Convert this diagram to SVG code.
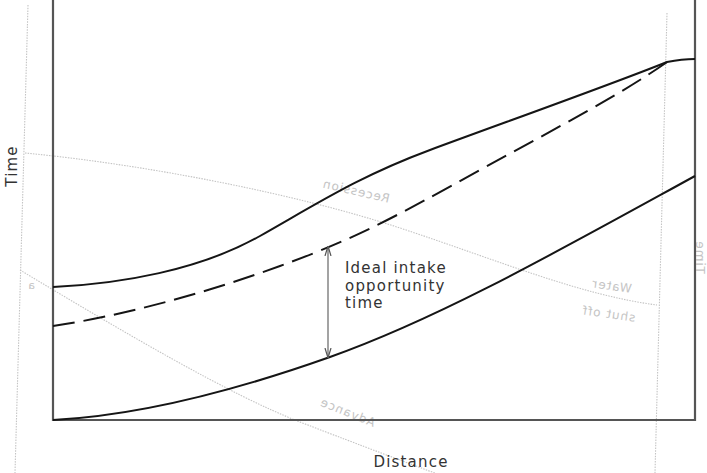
<svg xmlns="http://www.w3.org/2000/svg" width="707" height="473" viewBox="0 0 707 473">
<style>
.axis{fill:none;stroke:#555;stroke-width:2.2}
.curve{fill:none;stroke:#151515;stroke-width:2}
.dash{stroke-dasharray:22 9}
.ghost{fill:none;stroke:#c4c4c4;stroke-width:1.1;stroke-dasharray:1.5 1.2}
.ghostText{font-family:"DejaVu Sans",sans-serif;font-size:12px;fill:#c4c4c4;letter-spacing:1px}
.label{font-family:"DejaVu Sans",sans-serif;font-size:15px;fill:#333;letter-spacing:1.2px}
.dim{fill:none;stroke:#666;stroke-width:1.2}
</style>
<defs>
<marker id="ah" viewBox="0 0 10 10" refX="10" refY="5" markerWidth="10" markerHeight="10" markerUnits="userSpaceOnUse" orient="auto-start-reverse">
<path d="M0,2 L10,5 L0,8" fill="none" stroke="#555" stroke-width="1.2"/>
</marker>
</defs>
<rect width="707" height="473" fill="#fff"/>

<g id="ghost-lines">
<path class="ghost" d="M28,5 L15,473"/>
<path class="ghost" d="M667,13 L655,473"/>
<path class="ghost" d="M25,153 C150,165 300,195 400,228 S580,295 657,305"/>
<path class="ghost" d="M20,270 C120,330 230,395 300,422 S400,460 440,475"/>
<text class="ghostText" text-anchor="middle" transform="translate(355,195) rotate(13) scale(-1,1)">Recession</text>
<text class="ghostText" text-anchor="middle" transform="translate(611,290) rotate(8) scale(-1,1)">Water</text>
<text class="ghostText" text-anchor="middle" transform="translate(608,318) rotate(8) scale(-1,1)">shut off</text>
<text class="ghostText" text-anchor="middle" transform="translate(346,416) rotate(22) scale(-1,1)">Advance</text>
<text class="ghostText" text-anchor="middle" transform="translate(696,257) scale(-1,1) rotate(-90)">Time</text>
<text class="ghostText" text-anchor="middle" transform="translate(31,289) scale(-1,1)" style="font-size:11px">a</text>
</g>

<g id="frame">
<path class="axis" d="M53,0 L53,420 L695,420 L695,0"/>
</g>

<g id="upper-curve">
<path class="curve" d="M53,287 C120,284 200,270 260,236 S360,176 430,150 S610,85 667,62 C677,60 688,59 695,59"/>
</g>

<g id="dashed-curve">
<path class="curve dash" d="M53,326 C120,316 200,295 280,266 S400,214 480,170 S620,95 667,62"/>
</g>

<g id="lower-curve">
<path class="curve" d="M53,420 C130,416 220,396 330,357 S560,250 695,176"/>
</g>

<g id="connectors">
<path class="dim" d="M328,246 L328,358" marker-start="url(#ah)" marker-end="url(#ah)"/>
</g>

<g id="label-opportunity">
<text class="label" x="345" y="273">Ideal intake</text>
<text class="label" x="345" y="291">opportunity</text>
<text class="label" x="345" y="308">time</text>
</g>

<g id="label-time">
<text class="label" text-anchor="middle" transform="translate(17,166) rotate(-90)">Time</text>
</g>

<g id="label-distance">
<text class="label" x="411" y="467" text-anchor="middle">Distance</text>
</g>
</svg>
